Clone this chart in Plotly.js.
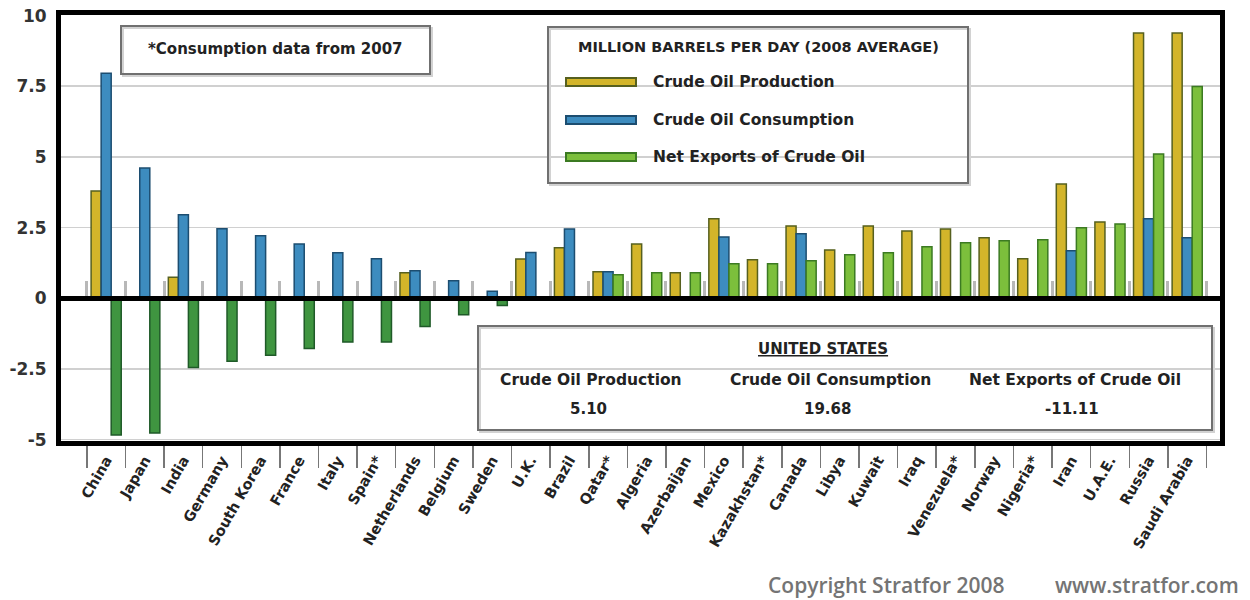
<!DOCTYPE html>
<html>
<head>
<meta charset="utf-8">
<script src="https://cdn.plot.ly/plotly-3.0.1.min.js"></script>
<style>
  html, body { margin: 0; padding: 0; background: #ffffff; }
  #chart { width: 1250px; height: 600px; }
</style>
</head>
<body>
<div id="chart"></div>
<script>
// ---- DATA (million barrels per day, 2008 average; null = no bar) ----
const countries = ["China","Japan","India","Germany","South Korea","France","Italy","Spain*",
  "Netherlands","Belgium","Sweden","U.K.","Brazil","Qatar*","Algeria","Azerbaijan","Mexico",
  "Kazakhstan*","Canada","Libya","Kuwait","Iraq","Venezuela*","Norway","Nigeria*","Iran",
  "U.A.E.","Russia","Saudi Arabia"];
const production = [3.79, null, 0.74, null, null, null, null, null, 0.9, null, null, 1.39, 1.79,
  0.94, 1.92, 0.9, 2.81, 1.36, 2.56, 1.71, 2.56, 2.38, 2.45, 2.14, 1.4, 4.04, 2.7, 9.38, 9.38];
const consumption = [7.96, 4.61, 2.95, 2.46, 2.21, 1.92, 1.61, 1.4, 0.97, 0.62, 0.25, 1.62, 2.45,
  0.94, null, null, 2.17, null, 2.28, null, null, null, null, null, null, 1.68, null, 2.81, 2.14];
const netExports = [-4.84, -4.77, -2.45, -2.23, -2.02, -1.78, -1.55, -1.55, -1.0, -0.58, -0.26, null, null,
  0.83, 0.9, 0.9, 1.22, 1.22, 1.33, 1.54, 1.61, 1.82, 1.96, 2.03, 2.07, 2.49, 2.63, 5.1, 7.49];
const seriesNames = ["Crude Oil Production", "Crude Oil Consumption", "Net Exports of Crude Oil"];
const yTickVals = [-5, -2.5, 0, 2.5, 5, 7.5, 10];
const yTickText = ["-5", "-2.5", "0", "2.5", "5", "7.5", "10"];
const legendTitle = "MILLION BARRELS PER DAY (2008 AVERAGE)";
const noteText = "*Consumption data from 2007";
const usTitle = "UNITED STATES";
const usValues = ["5.10", "19.68", "-11.11"];
const copyrightTexts = ["Copyright Stratfor 2008", "www.stratfor.com"];

// ---- STYLE ----
const FONT = "DejaVu Sans";
const colProd = "#d3b52a", lineProd = "#56601f";
const colCons = "#3d8cbf", lineCons = "#1c4d70";
const colExpPos = "#7cbf3c", lineExpPos = "#3b7a22";
const colExpNeg = "#3f9540", lineExpNeg = "#1f5a28";

const W = 1250, H = 600;
const M = { l: 61, r: 30, t: 15, b: 159 };
const PW = W - M.l - M.r, PH = H - M.t - M.b;
const yRange = [-5.05, 10.02];
const xRange = [-1.17, 28.85];
const px = x => (x - M.l) / PW;
const py = y => 1 - (y - M.t) / PH;
const zeroPos = (0 - yRange[0]) / (yRange[1] - yRange[0]);

const traces = [
  { type: "bar", name: seriesNames[0], x: countries, y: production,
    marker: { color: colProd, line: { color: lineProd, width: 1.5 } }, showlegend: false },
  { type: "bar", name: seriesNames[1], x: countries, y: consumption,
    marker: { color: colCons, line: { color: lineCons, width: 1.5 } }, showlegend: false },
  { type: "bar", name: seriesNames[2], x: countries, y: netExports,
    marker: { color: netExports.map(v => v < 0 ? colExpNeg : colExpPos),
              line: { color: netExports.map(v => v < 0 ? lineExpNeg : lineExpPos), width: 1.5 } },
    showlegend: false },
  // empty helper trace so the zero-line axis (with its grey boundary ticks) is drawn
  { type: "scatter", mode: "markers", x: [], y: [], xaxis: "x2", yaxis: "y",
    showlegend: false, hoverinfo: "skip" }
];

const boundaries = countries.map((c, i) => i - 0.5).concat([countries.length - 0.5]);

const shapes = [];
const annotations = [];
function box(x0, y0, x1, y1) {
  shapes.push({ type: "rect", xref: "paper", yref: "paper", x0: px(x0 + 2), x1: px(x1 + 2),
    y0: py(y0 + 2), y1: py(y1 + 2), line: { color: "#d2d2d2", width: 2 }, fillcolor: "rgba(0,0,0,0)" });
  shapes.push({ type: "rect", xref: "paper", yref: "paper", x0: px(x0), x1: px(x1),
    y0: py(y0), y1: py(y1), line: { color: "#707070", width: 2 }, fillcolor: "rgba(0,0,0,0)" });
}
function text(t, x, y, size, opts) {
  annotations.push(Object.assign({ text: t, xref: "paper", yref: "paper", x: px(x), y: py(y),
    xanchor: "center", yanchor: "middle", showarrow: false,
    font: { family: FONT, size: size, color: "#222", weight: "bold" } }, opts || {}));
}

// note box
box(121, 26, 430, 74);
text(noteText, 275, 49, 15);

// legend box
box(548, 27, 968, 183);
text(legendTitle, 758, 47, 14.5);
const swCols = [[colProd, lineProd], [colCons, lineCons], [colExpPos, lineExpPos]];
const swY = [82, 120, 157];
seriesNames.forEach((n, i) => {
  shapes.push({ type: "rect", xref: "paper", yref: "paper", x0: px(566), x1: px(636),
    y0: py(swY[i] - 4), y1: py(swY[i] + 4), fillcolor: swCols[i][0],
    line: { color: swCols[i][1], width: 2 } });
  text(n, 651, swY[i], 15.5, { xanchor: "left" });
});

// United States box
box(478, 326, 1212, 430);
text('<span style="text-decoration:underline">' + usTitle + '</span>', 823, 349, 15);
const usX = [591, 830, 1075];
seriesNames.forEach((n, i) => {
  text(n, usX[i], 380, 15.5);
  text(usValues[i], usX[i] - 3, 409, 15);
});

// copyright (two pieces)
const cpFont = { family: "Open Sans", size: 21, color: "#747474", weight: 600 };
annotations.push({ text: copyrightTexts[0], xref: "paper", yref: "paper", x: px(766), y: py(585),
  xanchor: "left", yanchor: "middle", showarrow: false, font: cpFont });
annotations.push({ text: copyrightTexts[1], xref: "paper", yref: "paper", x: px(1241), y: py(585),
  xanchor: "right", yanchor: "middle", showarrow: false, font: cpFont });

const layout = {
  width: W, height: H, margin: M,
  paper_bgcolor: "#ffffff", plot_bgcolor: "#ffffff",
  barmode: "group", bargap: 0.22, bargroupgap: 0,
  showlegend: false, hovermode: false,
  xaxis: {
    type: "category", range: xRange, tickson: "boundaries",
    ticks: "outside", ticklen: 22, tickwidth: 1.5, tickcolor: "#777",
    tickangle: -60, showgrid: false, zeroline: false,
    tickfont: { family: FONT, size: 14.5, color: "#222", weight: "bold" },
    showline: true, linewidth: 5, linecolor: "#000", mirror: true
  },
  xaxis2: {
    overlaying: "x", anchor: "free", position: zeroPos, side: "bottom",
    type: "linear", range: xRange, tickmode: "array", tickvals: boundaries,
    ticks: "inside", ticklen: 15, tickwidth: 3, tickcolor: "#b8b8b8",
    showticklabels: false, showgrid: false, zeroline: false,
    showline: true, linewidth: 5, linecolor: "#000", layer: "above traces"
  },
  yaxis: {
    range: yRange, tickmode: "array", tickvals: yTickVals, ticktext: yTickText,
    showgrid: true, gridcolor: "#d0d0d0", gridwidth: 1.5,
    zeroline: true, zerolinecolor: "#000", zerolinewidth: 5, ticks: "", ticklabelstandoff: 6,
    tickfont: { family: FONT, size: 17, color: "#333", weight: "bold" },
    showline: true, linewidth: 5, linecolor: "#000", mirror: true
  },
  shapes: shapes,
  annotations: annotations
};

Plotly.newPlot("chart", traces, layout, { displayModeBar: false, staticPlot: true });
</script>
</body>
</html>
